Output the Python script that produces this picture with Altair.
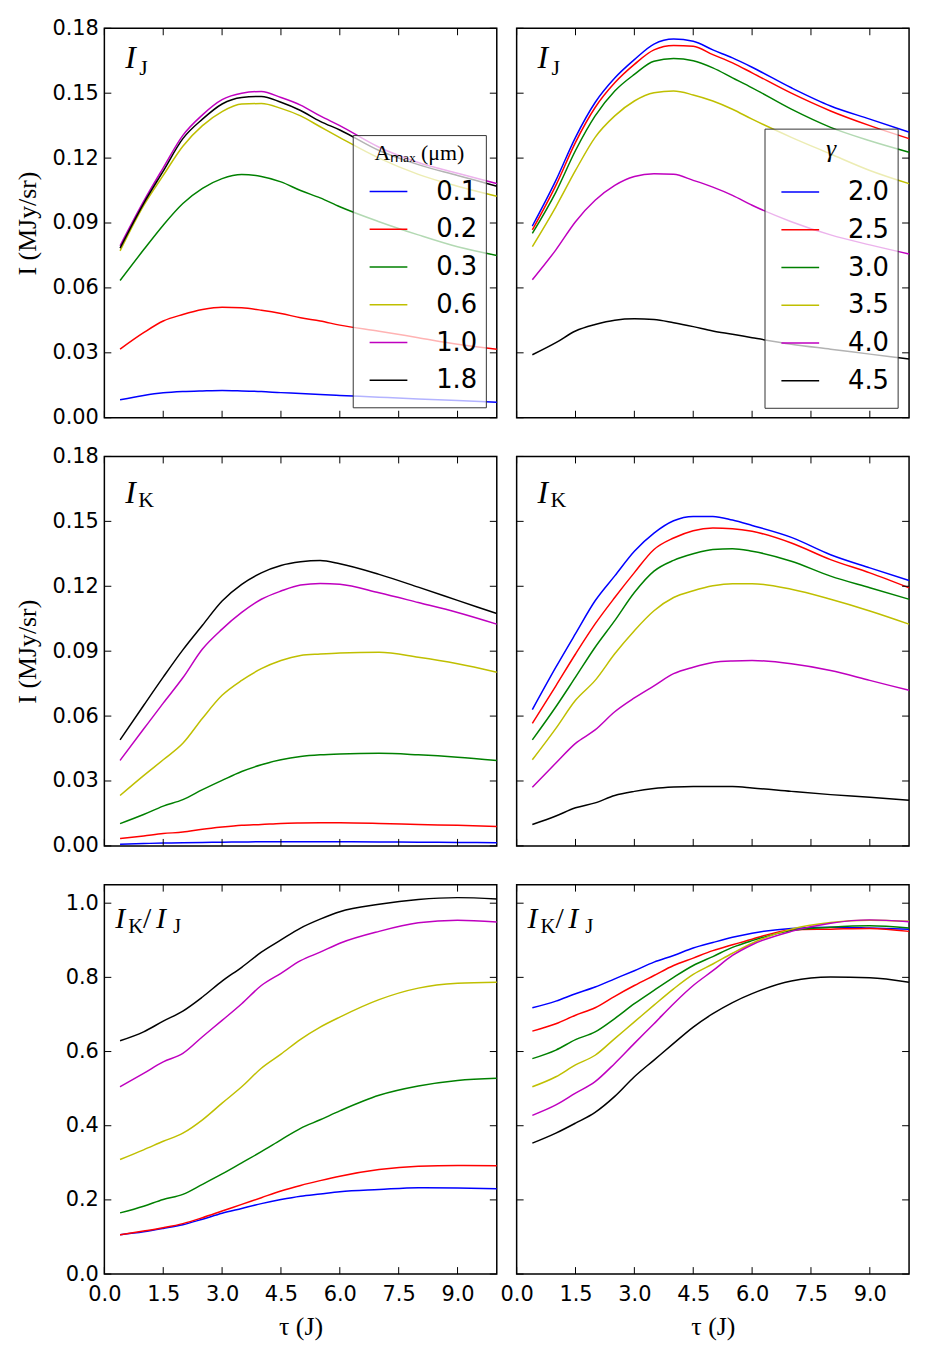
import altair as alt
import pandas as pd

TAU = [0.4, 1.0, 1.5, 2.0, 2.5, 3.0, 3.5, 4.0, 4.5, 5.0, 5.5, 6.0, 7.0, 8.0, 9.0, 10.0]

AMAX = ["0.1", "0.2", "0.3", "0.6", "1.0", "1.8"]
GAMMA = ["2.0", "2.5", "3.0", "3.5", "4.0", "4.5"]
COLORS = ["#0000ff", "#ff0000", "#008000", "#bfbf00", "#bf00bf", "#000000"]

# I_J vs tau for different A_max (top-left)
IJ_A = {
    "0.1": [0.0083, 0.0103, 0.0115, 0.0121, 0.0124, 0.0126, 0.0124, 0.0121, 0.0116, 0.0112, 0.0107, 0.0103, 0.0095, 0.0087, 0.0080, 0.0072],
    "0.2": [0.0317, 0.0393, 0.0447, 0.0477, 0.0500, 0.0511, 0.0508, 0.0497, 0.0482, 0.0462, 0.0447, 0.0428, 0.0400, 0.0370, 0.0340, 0.0317],
    "0.3": [0.0634, 0.0776, 0.0890, 0.0990, 0.1060, 0.1105, 0.1124, 0.1115, 0.1090, 0.1050, 0.1016, 0.0975, 0.0906, 0.0845, 0.0790, 0.0750],
    "0.6": [0.0771, 0.0980, 0.1120, 0.1255, 0.1350, 0.1415, 0.1450, 0.1452, 0.1430, 0.1395, 0.1345, 0.1295, 0.1200, 0.1125, 0.1070, 0.1024],
    "1.0": [0.0795, 0.1000, 0.1155, 0.1305, 0.1400, 0.1470, 0.1500, 0.1508, 0.1480, 0.1445, 0.1395, 0.1350, 0.1250, 0.1180, 0.1130, 0.1082],
    "1.8": [0.0784, 0.0990, 0.1140, 0.1290, 0.1380, 0.1450, 0.1480, 0.1485, 0.1458, 0.1420, 0.1370, 0.1330, 0.1235, 0.1170, 0.1120, 0.1070],
}
# I_J vs tau for different gamma (top-right)
IJ_G = {
    "2.0": [0.0886, 0.1097, 0.1296, 0.1457, 0.1570, 0.1655, 0.1727, 0.1750, 0.1740, 0.1700, 0.1663, 0.1620, 0.1525, 0.1441, 0.1380, 0.1320],
    "2.5": [0.0868, 0.1074, 0.1273, 0.1434, 0.1548, 0.1633, 0.1700, 0.1720, 0.1717, 0.1678, 0.1640, 0.1594, 0.1500, 0.1418, 0.1350, 0.1290],
    "3.0": [0.0852, 0.1043, 0.1235, 0.1395, 0.1510, 0.1587, 0.1648, 0.1660, 0.1650, 0.1617, 0.1571, 0.1525, 0.1426, 0.1342, 0.1280, 0.1227],
    "3.5": [0.0791, 0.0975, 0.1143, 0.1296, 0.1395, 0.1464, 0.1502, 0.1510, 0.1492, 0.1464, 0.1426, 0.1380, 0.1296, 0.1219, 0.1143, 0.1082],
    "4.0": [0.0638, 0.0776, 0.0906, 0.1005, 0.1074, 0.1115, 0.1128, 0.1125, 0.1097, 0.1066, 0.1028, 0.0982, 0.0906, 0.0845, 0.0799, 0.0757],
    "4.5": [0.0291, 0.0347, 0.0401, 0.0431, 0.0451, 0.0457, 0.0454, 0.0439, 0.0421, 0.0401, 0.0386, 0.0370, 0.0340, 0.0317, 0.0294, 0.0271],
}
# I_K vs tau for different A_max (middle-left)
IK_A = {
    "0.1": [0.0008, 0.0011, 0.0013, 0.0015, 0.0016, 0.0017, 0.0018, 0.0019, 0.0019, 0.0019, 0.0019, 0.0019, 0.0018, 0.0017, 0.0016, 0.0015],
    "0.2": [0.0034, 0.0046, 0.0057, 0.0064, 0.0077, 0.0087, 0.0095, 0.0099, 0.0104, 0.0106, 0.0107, 0.0107, 0.0104, 0.0099, 0.0095, 0.0090],
    "0.3": [0.0103, 0.0145, 0.0184, 0.0214, 0.0260, 0.0303, 0.0344, 0.0375, 0.0398, 0.0413, 0.0421, 0.0425, 0.0428, 0.0421, 0.0410, 0.0395],
    "0.6": [0.0233, 0.0325, 0.0398, 0.0474, 0.0590, 0.0696, 0.0765, 0.0819, 0.0857, 0.0880, 0.0887, 0.0892, 0.0895, 0.0872, 0.0842, 0.0803],
    "1.0": [0.0395, 0.0540, 0.0660, 0.0777, 0.0910, 0.1002, 0.1079, 0.1140, 0.1178, 0.1206, 0.1213, 0.1209, 0.1170, 0.1125, 0.1079, 0.1025],
    "1.8": [0.0490, 0.0649, 0.0780, 0.0906, 0.1020, 0.1132, 0.1209, 0.1262, 0.1296, 0.1313, 0.1319, 0.1304, 0.1255, 0.1196, 0.1135, 0.1074],
}
# I_K vs tau for different gamma (middle-right)
IK_G = {
    "2.0": [0.0630, 0.0826, 0.0981, 0.1133, 0.1248, 0.1362, 0.1446, 0.1503, 0.1523, 0.1523, 0.1506, 0.1481, 0.1426, 0.1346, 0.1285, 0.1227],
    "2.5": [0.0566, 0.0740, 0.0887, 0.1026, 0.1148, 0.1263, 0.1370, 0.1423, 0.1457, 0.1469, 0.1466, 0.1454, 0.1400, 0.1323, 0.1262, 0.1193],
    "3.0": [0.0490, 0.0643, 0.0780, 0.0918, 0.1041, 0.1171, 0.1270, 0.1320, 0.1350, 0.1370, 0.1374, 0.1362, 0.1316, 0.1247, 0.1193, 0.1140],
    "3.5": [0.0398, 0.0543, 0.0673, 0.0765, 0.0888, 0.0995, 0.1087, 0.1148, 0.1179, 0.1202, 0.1212, 0.1212, 0.1186, 0.1140, 0.1086, 0.1025],
    "4.0": [0.0271, 0.0383, 0.0474, 0.0536, 0.0620, 0.0684, 0.0740, 0.0796, 0.0826, 0.0848, 0.0855, 0.0857, 0.0842, 0.0811, 0.0765, 0.0719],
    "4.5": [0.0099, 0.0138, 0.0176, 0.0199, 0.0233, 0.0252, 0.0265, 0.0272, 0.0275, 0.0275, 0.0274, 0.0268, 0.0252, 0.0237, 0.0225, 0.0211],
}
# I_K / I_J vs tau for different A_max (bottom-left)
R_A = {
    "0.1": [0.106, 0.114, 0.123, 0.133, 0.148, 0.164, 0.177, 0.190, 0.201, 0.210, 0.216, 0.222, 0.228, 0.233, 0.232, 0.230],
    "0.2": [0.106, 0.116, 0.125, 0.136, 0.152, 0.170, 0.188, 0.206, 0.224, 0.239, 0.252, 0.264, 0.282, 0.291, 0.293, 0.292],
    "0.3": [0.165, 0.183, 0.201, 0.215, 0.242, 0.270, 0.300, 0.330, 0.362, 0.393, 0.416, 0.440, 0.482, 0.507, 0.522, 0.528],
    "0.6": [0.309, 0.335, 0.358, 0.380, 0.416, 0.461, 0.505, 0.555, 0.593, 0.633, 0.666, 0.693, 0.740, 0.771, 0.784, 0.787],
    "1.0": [0.505, 0.541, 0.572, 0.595, 0.640, 0.684, 0.729, 0.778, 0.811, 0.845, 0.868, 0.892, 0.924, 0.947, 0.954, 0.949],
    "1.8": [0.629, 0.653, 0.682, 0.709, 0.747, 0.790, 0.827, 0.868, 0.901, 0.933, 0.957, 0.977, 0.997, 1.010, 1.015, 1.011],
}
# I_K / I_J vs tau for different gamma (bottom-right)
R_G = {
    "2.0": [0.718, 0.736, 0.756, 0.774, 0.796, 0.818, 0.841, 0.859, 0.879, 0.894, 0.908, 0.919, 0.932, 0.935, 0.933, 0.930],
    "2.5": [0.655, 0.675, 0.698, 0.718, 0.749, 0.778, 0.805, 0.832, 0.852, 0.872, 0.888, 0.903, 0.928, 0.930, 0.932, 0.924],
    "3.0": [0.581, 0.604, 0.632, 0.653, 0.689, 0.729, 0.765, 0.800, 0.832, 0.856, 0.881, 0.899, 0.926, 0.935, 0.939, 0.933],
    "3.5": [0.505, 0.532, 0.564, 0.590, 0.635, 0.680, 0.725, 0.769, 0.808, 0.836, 0.865, 0.892, 0.930, 0.948, 0.954, 0.951],
    "4.0": [0.428, 0.456, 0.488, 0.519, 0.568, 0.622, 0.675, 0.729, 0.778, 0.818, 0.859, 0.888, 0.924, 0.946, 0.955, 0.950],
    "4.5": [0.353, 0.380, 0.407, 0.436, 0.479, 0.532, 0.577, 0.622, 0.666, 0.702, 0.732, 0.756, 0.790, 0.801, 0.799, 0.787],
}

X_TICKS = [0.0, 1.5, 3.0, 4.5, 6.0, 7.5, 9.0]
I_TICKS = [0.0, 0.03, 0.06, 0.09, 0.12, 0.15, 0.18]
R_TICKS = [0.0, 0.2, 0.4, 0.6, 0.8, 1.0]

W, H = 395, 392
TICK = 7
SERIF = "Liberation Serif"
SANS = "DejaVu Sans"
TICK_FONT = 21


def long_df(d, keys):
    rows = []
    for k in keys:
        for t, v in zip(TAU, d[k]):
            rows.append({"tau": t, "val": v, "k": k})
    return pd.DataFrame(rows)


def legend(title, lx, ly, tsize, tstyle, tpad):
    return alt.Legend(
        title=title, orient="none", legendX=lx, legendY=ly,
        fillColor="rgba(255,255,255,0.7)", strokeColor="#333333",
        padding=8, symbolType="stroke", symbolSize=1444, symbolStrokeWidth=1.5,
        symbolOffset=8, labelOffset=28, labelFont=SANS, labelFontSize=26,
        labelColor="black", titleFont=SERIF, titleFontSize=tsize,
        titleFontStyle=tstyle, titleFontWeight="normal", titleColor="black",
        titleAnchor="middle", titlePadding=tpad, clipHeight=37.8, rowPadding=0,
        zindex=1,
    )


def text_layer(parts):
    layers = []
    dummy = pd.DataFrame({"d": [0]})
    for txt, x, y, size, style in parts:
        layers.append(
            alt.Chart(dummy).mark_text(
                text=txt, font=SERIF, fontSize=size, fontStyle=style,
                align="left", baseline="alphabetic", color="black",
            ).encode(x=alt.value(x), y=alt.value(y))
        )
    return layers


def panel(data, keys, ydom, yticks, yfmt, ylabels, ytitle, xlabels, leg, label_parts):
    xaxis = None
    if xlabels:
        xaxis = alt.Axis(values=X_TICKS, format=".1f", labelFont=SANS, labelFontSize=TICK_FONT,
                         labelColor="black", ticks=False, domain=False, grid=False,
                         labelPadding=10, labelFlush=False, labelOverlap=False,
                         title="τ (J)", titleFont=SERIF, titleFontSize=26,
                         titleFontWeight="normal", titleColor="black", titlePadding=9)
    yaxis = None
    if ylabels:
        yaxis = alt.Axis(values=yticks, format=yfmt, labelFont=SANS, labelFontSize=TICK_FONT,
                         labelColor="black", ticks=False, domain=False, grid=False,
                         labelPadding=6, labelFlush=False, labelOverlap=False,
                         title=ytitle if ytitle else None, titleFont=SERIF, titleFontSize=26,
                         titleFontWeight="normal", titleColor="black", titlePadding=12)
    X = alt.X("tau:Q", scale=alt.Scale(domain=[0, 10], nice=False, zero=False), axis=xaxis)
    Y = alt.Y("val:Q", scale=alt.Scale(domain=ydom, nice=False, zero=False), axis=yaxis)

    df = long_df(data, keys)
    lines = alt.Chart(df).mark_line(strokeWidth=1.5, interpolate="monotone").encode(
        x=X, y=Y,
        color=alt.Color("k:N", scale=alt.Scale(domain=keys, range=COLORS), sort=keys,
                        legend=leg),
    )
    xt = pd.DataFrame({"tau": X_TICKS})
    yt = pd.DataFrame({"val": yticks})
    tb = alt.Chart(xt).mark_rule(color="black", strokeWidth=1).encode(
        x=X, y=alt.value(H), y2=alt.value(H - TICK))
    tt = alt.Chart(xt).mark_rule(color="black", strokeWidth=1).encode(
        x=X, y=alt.value(0), y2=alt.value(TICK))
    tl = alt.Chart(yt).mark_rule(color="black", strokeWidth=1).encode(
        y=Y, x=alt.value(0), x2=alt.value(TICK))
    tr = alt.Chart(yt).mark_rule(color="black", strokeWidth=1).encode(
        y=Y, x=alt.value(W), x2=alt.value(W - TICK))
    return alt.layer(lines, tb, tt, tl, tr, *text_layer(label_parts)).properties(width=W, height=H)


LBL_IJ = [("I", 21, 40, 32, "italic"), ("J", 35, 47, 22, "normal")]
LBL_IK = [("I", 21, 47, 32, "italic"), ("K", 34, 51, 22, "normal")]
LBL_R = [("I", 11, 44, 30, "italic"), ("K", 24, 49, 21, "normal"),
         ("/", 39, 44, 30, "normal"), ("I", 52, 44, 30, "italic"), ("J", 69, 49, 21, "normal")]

YT = "I (MJy/sr)"

p1 = panel(IJ_A, AMAX, [0, 0.18], I_TICKS, ".2f", True, YT, False,
           legend("Aₘₐₓ (μm)", 250, 107.5, 22, "normal", 8), LBL_IJ)
p2 = panel(IJ_G, GAMMA, [0, 0.18], I_TICKS, ".2f", False, None, False,
           legend("γ", 249.5, 101, 26, "italic", 11), LBL_IJ)
p3 = panel(IK_A, AMAX, [0, 0.18], I_TICKS, ".2f", True, YT, False, None, LBL_IK)
p4 = panel(IK_G, GAMMA, [0, 0.18], I_TICKS, ".2f", False, None, False, None, LBL_IK)
p5 = panel(R_A, AMAX, [0, 1.05], R_TICKS, ".1f", True, None, True, None, LBL_R)
p6 = panel(R_G, GAMMA, [0, 1.05], R_TICKS, ".1f", False, None, True, None, LBL_R)

chart = alt.concat(
    p1, p2, p3, p4, p5, p6, columns=2,
    spacing={"row": 39, "column": 20}, bounds="flush",
).resolve_scale(color="independent").resolve_legend(color="independent").properties(
    padding={"left": 5, "top": 4, "right": 5, "bottom": 5}
).configure_view(stroke="black", strokeWidth=1.5)

chart.save("out.html", embed_options={"renderer": "svg", "actions": False})
